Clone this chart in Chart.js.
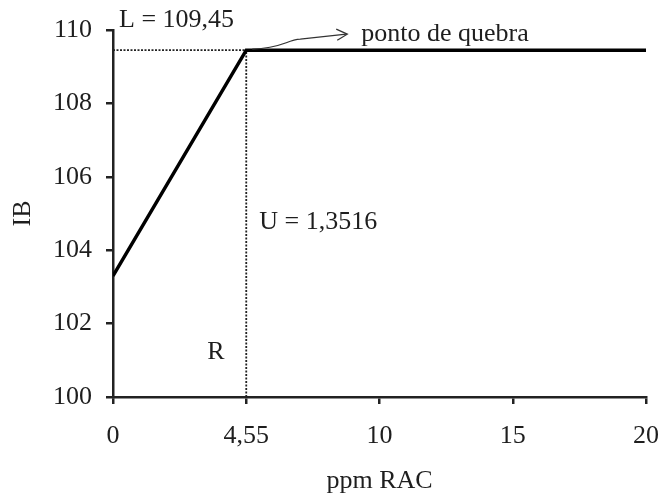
<!DOCTYPE html>
<html><head><meta charset="utf-8">
<script src="https://cdn.jsdelivr.net/npm/chart.js@4/dist/chart.umd.min.js"></script>
<style>html,body{margin:0;padding:0;background:#fff}#w{width:660px;height:497px}</style>
</head><body><div id="w"><canvas id="c"></canvas></div>
<script>
// Data
const xValues = [0, 5, 20];            // break point drawn at the "4,55" tick
const ibValues = [103.3, 109.45, 109.45];
const xTickValues = [0, 5, 10, 15, 20];
const xTickLabels = ["0", "4,55", "10", "15", "20"];
const yTickValues = [100, 102, 104, 106, 108, 110];
const breakX = 5, breakY = 109.45;
const labels = { L: "L = 109,45", U: "U = 1,3516", R: "R", brk: "ponto de quebra" };

const FONT = "'Liberation Serif', 'Times New Roman', serif";
const FS = 26;
const TXT = '#1e1e1e';

const annot = {
  id: 'annot',
  afterDatasetsDraw(chart) {
    const {ctx, scales: {x, y}} = chart;
    const bx = x.getPixelForValue(breakX), by = y.getPixelForValue(breakY);
    ctx.save();
    ctx.fillStyle = TXT;
    ctx.font = FS + 'px ' + FONT;
    ctx.textBaseline = 'middle';
    ctx.textAlign = 'left';
    ctx.fillText(labels.L, x.getPixelForValue(0) + 6, y.getPixelForValue(110) - 10);
    ctx.fillText(labels.U, bx + 13, y.getPixelForValue(104.77));
    ctx.fillText(labels.R, bx - 39, y.getPixelForValue(101.23));
    ctx.fillText(labels.brk, bx + 115, by - 16);
    // curvy arrow
    ctx.strokeStyle = '#333';
    ctx.lineWidth = 1.3;
    ctx.beginPath();
    ctx.moveTo(bx + 6, by - 1);
    ctx.bezierCurveTo(bx + 36, by - 2, bx + 40, by - 10, bx + 54, by - 11);
    ctx.lineTo(bx + 100, by - 16);
    ctx.stroke();
    ctx.beginPath();
    ctx.moveTo(bx + 90, by - 21);
    ctx.lineTo(bx + 101, by - 16);
    ctx.lineTo(bx + 91, by - 10);
    ctx.stroke();
    ctx.restore();
  }
};

new Chart(document.getElementById('c'), {
  type: 'scatter',
  data: {
    datasets: [
      { data: xValues.map((v, i) => ({x: v, y: ibValues[i]})), showLine: true,
        borderColor: '#000', borderWidth: 3.5, pointRadius: 0, order: 0 },
      { data: [{x: 0, y: breakY}, {x: breakX, y: breakY}], showLine: true,
        borderColor: '#222', borderWidth: 1.8, borderDash: [2, 1.5], pointRadius: 0, order: 1 },
      { data: [{x: breakX, y: 100}, {x: breakX, y: breakY}], showLine: true,
        borderColor: '#222', borderWidth: 1.8, borderDash: [2, 1.5], pointRadius: 0, order: 1 }
    ]
  },
  options: {
    responsive: true, maintainAspectRatio: false, animation: false,
    layout: { padding: { top: 30, right: 14, left: 0, bottom: 0 } },
    plugins: { legend: { display: false }, tooltip: { enabled: false } },
    scales: {
      x: {
        type: 'linear', min: 0, max: 20,
        afterBuildTicks: s => { s.ticks = xTickValues.map(v => ({value: v})); },
        afterFit: s => { s.height = 100; s.paddingRight = 0; s.paddingLeft = 0; },
        ticks: { color: TXT, font: { family: FONT, size: FS }, padding: 17,
          callback: (v) => { const i = xTickValues.indexOf(v); return i >= 0 ? xTickLabels[i] : ''; } },
        grid: { drawOnChartArea: false, drawTicks: true, tickLength: 7, color: '#222', lineWidth: 2.5 },
        border: { display: true, color: '#222', width: 2.5 },
        title: { display: true, text: 'ppm RAC', color: TXT, font: { family: FONT, size: FS }, padding: { top: 10, bottom: 0 } }
      },
      y: {
        min: 100, max: 110,
        afterBuildTicks: s => { s.ticks = yTickValues.map(v => ({value: v})); },
        afterFit: s => { s.width = 113; s.paddingTop = 0; s.paddingBottom = 0; },
        ticks: { color: TXT, font: { family: FONT, size: FS }, padding: 14 },
        grid: { drawOnChartArea: false, drawTicks: true, tickLength: 7, color: '#222', lineWidth: 2.5 },
        border: { display: true, color: '#222', width: 2.5 },
        title: { display: true, text: 'IB', color: TXT, font: { family: FONT, size: FS }, padding: { top: 8, bottom: 0 } }
      }
    }
  },
  plugins: [annot]
});
</script>
</body></html>
